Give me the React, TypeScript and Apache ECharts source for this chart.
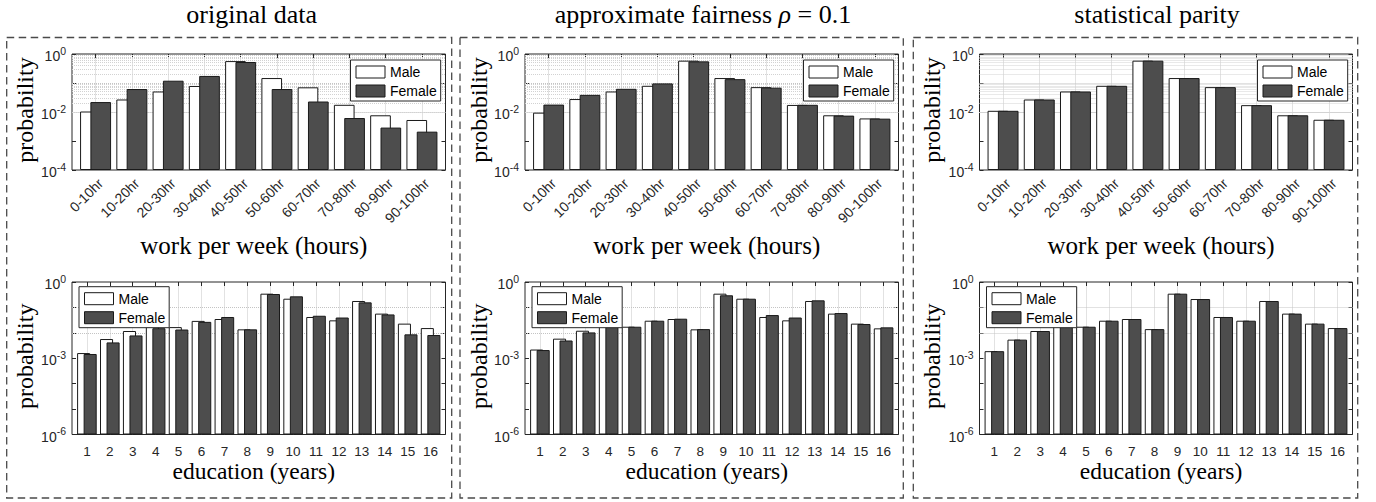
import React, { useEffect, useRef } from "react";
import * as echarts from "echarts";

// ---------- data ----------
const hourCategories = ["0-10hr", "10-20hr", "20-30hr", "30-40hr", "40-50hr", "50-60hr", "60-70hr", "70-80hr", "80-90hr", "90-100hr"];
const eduCategories = ["1", "2", "3", "4", "5", "6", "7", "8", "9", "10", "11", "12", "13", "14", "15", "16"];

const origHoursMale = [0.0104, 0.027, 0.051, 0.079, 0.57, 0.148, 0.071, 0.0177, 0.0077, 0.0053];
const origHoursFemale = [0.022, 0.062, 0.12, 0.175, 0.53, 0.062, 0.023, 0.0062, 0.0029, 0.0021];
const approxHoursMale = [0.0095, 0.028, 0.051, 0.08, 0.59, 0.148, 0.072, 0.0175, 0.0077, 0.006];
const approxHoursFemale = [0.018, 0.039, 0.063, 0.097, 0.557, 0.136, 0.069, 0.0177, 0.0075, 0.0059];
const parityHoursMale = [0.011, 0.027, 0.051, 0.08, 0.59, 0.148, 0.072, 0.0172, 0.0077, 0.0054];
const parityHoursFemale = [0.011, 0.027, 0.051, 0.08, 0.59, 0.148, 0.072, 0.0172, 0.0077, 0.0054];

const origEduMale = [0.0016, 0.0057, 0.0118, 0.018, 0.0168, 0.0295, 0.035, 0.0137, 0.347, 0.22, 0.042, 0.031, 0.179, 0.057, 0.023, 0.0154];
const origEduFemale = [0.00147, 0.0042, 0.0079, 0.0152, 0.0135, 0.027, 0.042, 0.0137, 0.337, 0.273, 0.047, 0.04, 0.158, 0.053, 0.0087, 0.0082];
const approxEduMale = [0.0022, 0.0059, 0.0121, 0.022, 0.0174, 0.03, 0.035, 0.0137, 0.347, 0.22, 0.042, 0.031, 0.179, 0.057, 0.023, 0.015];
const approxEduFemale = [0.0021, 0.005, 0.0104, 0.0215, 0.0174, 0.03, 0.036, 0.014, 0.3, 0.22, 0.05, 0.04, 0.19, 0.06, 0.0222, 0.0164];
const parityEduMale = [0.0019, 0.0054, 0.0118, 0.023, 0.0174, 0.03, 0.035, 0.014, 0.347, 0.214, 0.042, 0.03, 0.179, 0.057, 0.023, 0.0154];
const parityEduFemale = [0.0019, 0.0054, 0.0118, 0.023, 0.0174, 0.03, 0.035, 0.014, 0.347, 0.214, 0.042, 0.03, 0.179, 0.057, 0.023, 0.0154];

const panelTitles = ["original data", "approximate fairness ", "statistical parity"];
const seriesNames = ["Male", "Female"];
const hourLabelExps = [0, -2, -4];
const eduLabelExps = [0, -3, -6];
const xTitles = ["work per week (hours)", "education (years)"];
const yTitle = "probability";

// ---------- layout / style ----------
const SANS = "Liberation Sans";
const SERIF = "Liberation Serif";
const AX = "#262626";
const COLS = [
  { l: 72, r: 445.5, titleX: 251.7, yTitleX: 25, box: [6.7, 451.7] },
  { l: 525, r: 898.5, titleX: 703, yTitleX: 479, box: [460, 903.3] },
  { l: 979.5, r: 1352.5, titleX: 1157, yTitleX: 932, box: [913.3, 1357.7] },
];
const ROWS = [
  { t: 54, b: 170, minExp: -4, cats: hourCategories, labelExps: hourLabelExps, xTitleY: 245, xTitleSize: 25, minorDense: true },
  { t: 282, b: 434.5, minExp: -6, cats: eduCategories, labelExps: eduLabelExps, xTitleY: 470.5, xTitleSize: 23.5, minorDense: false },
];
const DATA = [
  [[origHoursMale, origHoursFemale], [approxHoursMale, approxHoursFemale], [parityHoursMale, parityHoursFemale]],
  [[origEduMale, origEduFemale], [approxEduMale, approxEduFemale], [parityEduMale, parityEduFemale]],
];

function buildOption() {
  const grid: any[] = [];
  const xAxis: any[] = [];
  const yAxis: any[] = [];
  const series: any[] = [];
  const legend: any[] = [];
  const graphic: any[] = [];

  ROWS.forEach((row, ri) => {
    COLS.forEach((col, ci) => {
      const N = row.cats.length;
      const W = col.r - col.l;
      const band = W / (N + 0.3);
      const minV = Math.pow(10, row.minExp);

      // frame grid
      const gA = grid.length;
      grid.push({ left: col.l, top: row.t, width: W, height: row.b - row.t, show: true, borderColor: AX, borderWidth: 1, backgroundColor: "transparent" });
      const xA = xAxis.length;
      xAxis.push({ gridIndex: gA, type: "value", min: 0, max: 1, show: false });
      const yA = yAxis.length;
      const labelExps = row.labelExps;
      yAxis.push({
        gridIndex: gA, type: "log", logBase: 10, min: minV, max: 1,
        axisLine: { show: false },
        axisTick: { show: true, inside: true, length: 4, lineStyle: { color: AX, width: 1 } },
        splitLine: { show: false },
        axisLabel: {
          margin: 6,
          formatter: (v: number) => {
            const e = Math.round(Math.log10(v));
            return labelExps.includes(e) ? `{b|10}{s|${e}}` : "";
          },
          rich: {
            b: { fontSize: 14, lineHeight: 18, verticalAlign: "bottom", fontFamily: SANS, color: AX },
            s: { fontSize: 10.5, lineHeight: 11, verticalAlign: "top", fontFamily: SANS, color: AX },
          },
        },
      });
      yAxis.push({
        gridIndex: gA, type: "log", logBase: 10, min: minV, max: 1, position: "right",
        axisLine: { show: false }, axisLabel: { show: false }, splitLine: { show: false },
        axisTick: { show: true, inside: true, length: 4, lineStyle: { color: AX, width: 1 } },
      });

      // horizontal grid lines
      const ml: any[] = [];
      for (let e = row.minExp + 1; e < 0; e++) {
        const major = labelExps.includes(e);
        ml.push({ yAxis: Math.pow(10, e), lineStyle: { type: major ? "solid" : "dotted", color: major ? "#dedede" : "#c4c4c4", width: 1 } });
      }
      if (row.minorDense) {
        for (let e = row.minExp; e < 0; e++) {
          for (let m = 2; m <= 9; m++) {
            ml.push({ yAxis: m * Math.pow(10, e), lineStyle: { type: "dotted", color: "#d2d2d2", width: 1 } });
          }
        }
      }
      series.push({
        type: "line", xAxisIndex: xA, yAxisIndex: yA, data: [], silent: true,
        markLine: { silent: true, symbol: ["none", "none"], label: { show: false }, z: 1, animation: false, data: ml },
      });

      // bar grid
      const gB = grid.length;
      grid.push({ left: col.l + 0.65 * band, top: row.t, width: (N - 1) * band, height: row.b - row.t, show: false });
      const xB = xAxis.length;
      const labelStyle: any = ri === 0
        ? { interval: 0, rotate: 45, margin: 6, verticalAlign: "top", fontSize: 14, color: AX, fontFamily: SANS }
        : { interval: 0, rotate: 0, margin: 10, fontSize: 13.5, color: AX, fontFamily: SANS };
      xAxis.push({
        gridIndex: gB, type: "category", data: row.cats, boundaryGap: false,
        axisLine: { show: false },
        axisTick: { show: true, inside: true, length: 4, interval: 0, lineStyle: { color: AX, width: 1 } },
        axisLabel: labelStyle,
        splitLine: { show: true, interval: 0, lineStyle: { color: "#e2e2e2", width: 1 } },
      });
      xAxis.push({
        gridIndex: gB, type: "category", data: row.cats, boundaryGap: false, position: "top",
        axisLine: { show: false }, axisLabel: { show: false }, splitLine: { show: false },
        axisTick: { show: true, inside: true, length: 4, interval: 0, lineStyle: { color: AX, width: 1 } },
      });
      const yB = yAxis.length;
      yAxis.push({ gridIndex: gB, type: "log", logBase: 10, min: minV, max: 1, startValue: minV, show: false });

      const [male, female] = DATA[ri][ci];
      series.push({
        type: "bar", name: seriesNames[0], xAxisIndex: xB, yAxisIndex: yB, data: male,
        barWidth: "57%", barGap: "-50%", clip: false, z: 2,
        itemStyle: { color: "#ffffff", borderColor: "#1a1a1a", borderWidth: 1 },
      });
      series.push({
        type: "bar", name: seriesNames[1], xAxisIndex: xB, yAxisIndex: yB, data: female,
        barWidth: "57%", barGap: "-50%", clip: false, z: 2,
        itemStyle: { color: "#4d4d4d", borderColor: "#1a1a1a", borderWidth: 1 },
      });

      legend.push({
        orient: "vertical",
        left: ri === 0 ? col.r - 95 : col.l + 7,
        top: ri === 0 ? 60 : 286.7,
        itemWidth: 29, itemHeight: 12, itemGap: 5,
        padding: [5, 4, 3, 5],
        borderColor: AX, borderWidth: 1, backgroundColor: "#ffffff",
        selectedMode: false, icon: "rect", z: 10,
        textStyle: { fontSize: 14, lineHeight: 12, color: "#000", fontFamily: SANS },
        data: [
          { name: seriesNames[0], itemStyle: { color: "#ffffff", borderColor: "#1a1a1a", borderWidth: 1 } },
          { name: seriesNames[1], itemStyle: { color: "#4d4d4d", borderColor: "#1a1a1a", borderWidth: 1 } },
        ],
      });

      // axis titles
      graphic.push({
        type: "text", x: (col.l + col.r) / 2 - 5, y: row.xTitleY, silent: true,
        style: { text: xTitles[ri], fontSize: row.xTitleSize, fontFamily: SERIF, fill: "#000", align: "center", verticalAlign: "middle" },
      });
      graphic.push({
        type: "text", x: col.yTitleX, y: (row.t + row.b) / 2 - 2, rotation: Math.PI / 2, silent: true,
        style: { text: yTitle, fontSize: 24, fontFamily: SERIF, fill: "#000", align: "center", verticalAlign: "middle" },
      });
    });
  });

  COLS.forEach((col, ci) => {
    graphic.push({
      type: "rect", silent: true,
      shape: { x: col.box[0], y: 37.5, width: col.box[1] - col.box[0], height: 498 - 37.5 },
      style: { fill: "none", stroke: "#4a4a4a", lineWidth: 1.3, lineDash: [7.5, 4.5] },
    });
    const text = ci === 1 ? `{n|${panelTitles[ci]}}{i|ρ}{n| = 0.1}` : `{n|${panelTitles[ci]}}`;
    graphic.push({
      type: "text", x: col.titleX, y: 14.5, silent: true,
      style: {
        text, align: "center", verticalAlign: "middle", fill: "#000", fontSize: 26, fontFamily: SERIF,
        rich: {
          n: { fontSize: 26, fontFamily: SERIF, fill: "#000" },
          i: { fontSize: 26, fontFamily: SERIF, fontStyle: "italic", fill: "#000" },
        },
      },
    });
  });

  return { animation: false, backgroundColor: "#ffffff", grid, xAxis, yAxis, series, legend, graphic };
}

export default function App() {
  const ref = useRef<HTMLDivElement>(null);
  useEffect(() => {
    if (!ref.current) return;
    const chart = echarts.init(ref.current, undefined, { renderer: "svg" });
    chart.setOption(buildOption() as any);
    return () => chart.dispose();
  }, []);
  return <div ref={ref} style={{ position: "fixed", left: 0, top: 0, width: 1376, height: 502 }} />;
}
